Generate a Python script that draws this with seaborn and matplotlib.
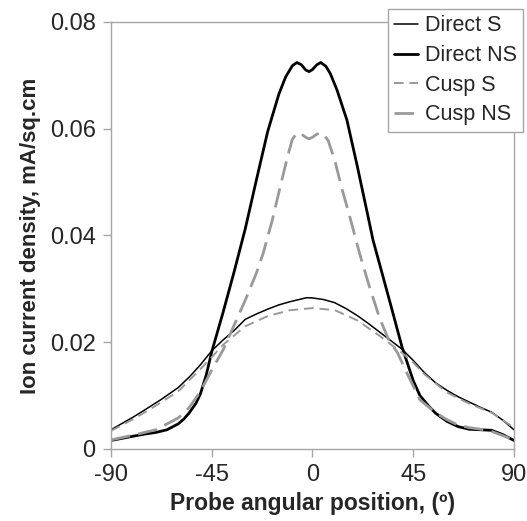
import numpy as np
import pandas as pd
import matplotlib
matplotlib.use("Agg")
import matplotlib.pyplot as plt
import seaborn as sns

# probe angle (deg) and ion current density (mA/sq.cm)
direct_s_x = [-90, -85, -80, -75, -67.5, -60, -55, -50, -45, -40, -35, -30, -25, -20, -15, -10, -5, -2.5,
              0, 5, 10, 15, 20, 25, 30, 35, 40, 45, 50, 55, 60, 65, 70, 75, 80, 85, 90]
direct_s_y = [0.0036, 0.0048, 0.0060, 0.0073, 0.0093, 0.0115, 0.0135, 0.0158, 0.0184, 0.0204, 0.0222, 0.0243,
              0.0253, 0.0262, 0.0270, 0.0276, 0.0281, 0.02835, 0.0283, 0.0280, 0.0274, 0.0263, 0.0250, 0.0235,
              0.0219, 0.0203, 0.0187, 0.0166, 0.0143, 0.0124, 0.0110, 0.0098, 0.0088, 0.0078, 0.0069, 0.0054,
              0.0036]

direct_ns_x = [-90, -85, -80, -75, -70, -65, -60, -57.5, -55, -52, -50, -47.5, -45, -40, -35, -30, -25, -20,
               -15, -12, -9, -7, -5, -3, -1.5, 0, 2, 3.7, 6, 8, 11, 15.4, 20, 25, 27, 30, 35, 40, 45, 48,
               52, 55, 60, 65, 70, 75, 80, 85, 90]
direct_ns_y = [0.0016, 0.0020, 0.0024, 0.0028, 0.0031, 0.0036, 0.0047, 0.0056, 0.0068, 0.0086, 0.0104,
               0.0138, 0.0182, 0.0255, 0.0332, 0.0413, 0.0505, 0.0595, 0.0665, 0.0697, 0.0718, 0.0724,
               0.0720, 0.0710, 0.0707, 0.0711, 0.0720, 0.0724, 0.0717, 0.0703, 0.0672, 0.0616, 0.0530,
               0.0432, 0.0392, 0.0346, 0.0269, 0.0191, 0.0128, 0.0100, 0.0080, 0.0067, 0.0052, 0.0042,
               0.0037, 0.0036, 0.0035, 0.0027, 0.0016]

cusp_s_x = [-90, -80, -70, -60, -50, -45, -40, -30, -20, -10, 0, 10, 20, 30, 40, 45, 50, 60, 70, 80, 90]
cusp_s_y = [0.0034, 0.0056, 0.0081, 0.0108, 0.0150, 0.0172, 0.0195, 0.0230, 0.0249, 0.0260, 0.0264, 0.0260,
            0.0241, 0.0212, 0.0180, 0.0162, 0.0140, 0.0106, 0.0085, 0.0068, 0.0040]

cusp_ns_x = [-90, -80, -70, -60, -55, -50, -45, -40, -35, -30, -25, -22, -18, -14.5, -11, -9, -7, -5, -3,
             -1.5, 0, 2, 4.5, 7, 10, 13, 17, 21, 25, 30, 34, 38, 43, 48, 55, 60, 65, 70, 75, 80, 85, 90]
cusp_ns_y = [0.0017, 0.0026, 0.0036, 0.0058, 0.0078, 0.0108, 0.0148, 0.0185, 0.0232, 0.0279, 0.0330,
             0.0367, 0.0428, 0.0490, 0.0550, 0.0580, 0.0592, 0.0590, 0.0584, 0.0581, 0.0584, 0.0590,
             0.0592, 0.0578, 0.0540, 0.0490, 0.0430, 0.0367, 0.0310, 0.0245, 0.0205, 0.0180, 0.0135,
             0.0092, 0.0068, 0.0055, 0.0045, 0.0040, 0.0037, 0.0033, 0.0025, 0.0017]

x_ticks = [-90, -45, 0, 45, 90]
y_ticks = [0, 0.02, 0.04, 0.06, 0.08]
y_tick_labels = ["0", "0.02", "0.04", "0.06", "0.08"]

sns.set_theme(style="white")
plt.rcParams['font.family'] = ['Liberation Sans', 'DejaVu Sans']
plt.rcParams['axes.unicode_minus'] = False

fig = plt.figure(figsize=(5.27, 5.21), dpi=100)
ax = fig.add_axes([0.2106, 0.1382, 0.7647, 0.8196])

frame_gray = "#a6a6a6"
line_gray = "#999999"

sns.lineplot(x=direct_s_x, y=direct_s_y, ax=ax, color="black", linewidth=1.1, label="Direct S")
sns.lineplot(x=direct_ns_x, y=direct_ns_y, ax=ax, color="black", linewidth=2.0, label="Direct NS")
sns.lineplot(x=cusp_s_x, y=cusp_s_y, ax=ax, color=line_gray, linewidth=1.4, label="Cusp S",
             linestyle=(0, (5, 3)))
sns.lineplot(x=cusp_ns_x, y=cusp_ns_y, ax=ax, color=line_gray, linewidth=2.0, label="Cusp NS",
             linestyle=(0, (7, 3)))

ax.set_xlim(-90, 90)
ax.set_ylim(0, 0.08)
ax.set_xticks(x_ticks)
ax.set_yticks(y_ticks)
ax.set_yticklabels(y_tick_labels)
ax.tick_params(axis="both", which="major", direction="out", length=6, width=1, color=frame_gray,
               labelsize=17, pad=5, bottom=True, left=True)

for side in ["left", "bottom", "top", "right"]:
    ax.spines[side].set_color(frame_gray)
    ax.spines[side].set_linewidth(1.0)

ax.set_xlabel("Probe angular position, (º)", fontsize=16.5, fontweight="bold", labelpad=4)
ax.set_ylabel("Ion current density, mA/sq.cm", fontsize=16, fontweight="bold", labelpad=6)

leg = ax.legend(loc="upper right", bbox_to_anchor=(523 / 527, 1 - 9 / 521), bbox_transform=fig.transFigure,
                borderaxespad=0, fontsize=15.5, frameon=True, fancybox=False, framealpha=1,
                edgecolor=frame_gray, handlelength=1.1, handletextpad=0.3, labelspacing=0.4,
                borderpad=0.3)
leg.get_frame().set_linewidth(1.0)

fig.savefig("out.png", dpi=100)
plt.close(fig)
